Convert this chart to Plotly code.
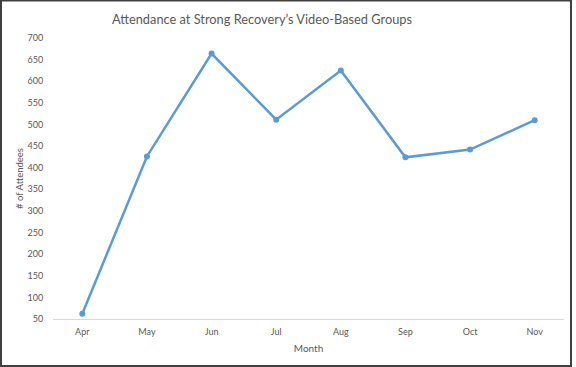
import plotly.graph_objects as go

months = ["Apr", "May", "Jun", "Jul", "Aug", "Sep", "Oct", "Nov"]
attendees = [62, 426, 664, 511, 625, 424, 442, 510]
y_ticks = list(range(50, 701, 50))

W, H = 576, 367
L, R, T, B = 53, 12, 38, 48
pw, ph = W - L - R, H - T - B

fig = go.Figure(go.Scatter(
    x=months, y=attendees, mode="lines+markers",
    line=dict(color="#5B9BD5", width=2.5),
    marker=dict(color="#5B9BD5", size=6),
))

font = "Lato, Open Sans, Liberation Sans, sans-serif"
fig.update_layout(
    width=W, height=H,
    margin=dict(l=L, r=R, t=T, b=B, autoexpand=False),
    paper_bgcolor="white", plot_bgcolor="white",
    showlegend=False,
    font=dict(family=font, color="#595959", size=9),
    title=dict(text="Attendance at Strong Recovery’s Video-Based Groups",
               x=262 / W, xanchor="center", y=1 - 20 / H, yanchor="middle",
               automargin=False,
               font=dict(size=12.8, color="#595959", family=font)),
    xaxis=dict(
        automargin=False,
        showgrid=False, showline=True, linecolor="#D9D9D9", linewidth=1,
        ticks="outside", ticklen=4, tickcolor="rgba(0,0,0,0)",
        tickfont=dict(size=9, color="#595959"),
        title=dict(text="Month", font=dict(size=10, color="#595959"), standoff=9),
    ),
    yaxis=dict(
        automargin=False,
        range=[50, 700], tickvals=y_ticks, showgrid=False, zeroline=False,
        showline=False, ticks="outside", ticklen=7, tickcolor="rgba(0,0,0,0)",
        tickfont=dict(size=9, color="#595959"),
        title=dict(text="# of Attendees", font=dict(size=9.5, color="#595959"), standoff=2),
    ),
    shapes=[dict(
        type="rect", xref="paper", yref="paper",
        x0=-(L - 1) / pw, x1=1 + (R - 5) / pw,
        y0=-(B - 1) / ph, y1=1 + (T - 0.5) / ph,
        line=dict(color="#404040", width=2), fillcolor="rgba(0,0,0,0)", layer="above",
    )],
)

fig.write_html("out.html", config={"displayModeBar": False},
               post_script="document.body.style.margin='0';document.body.style.overflow='hidden';")
